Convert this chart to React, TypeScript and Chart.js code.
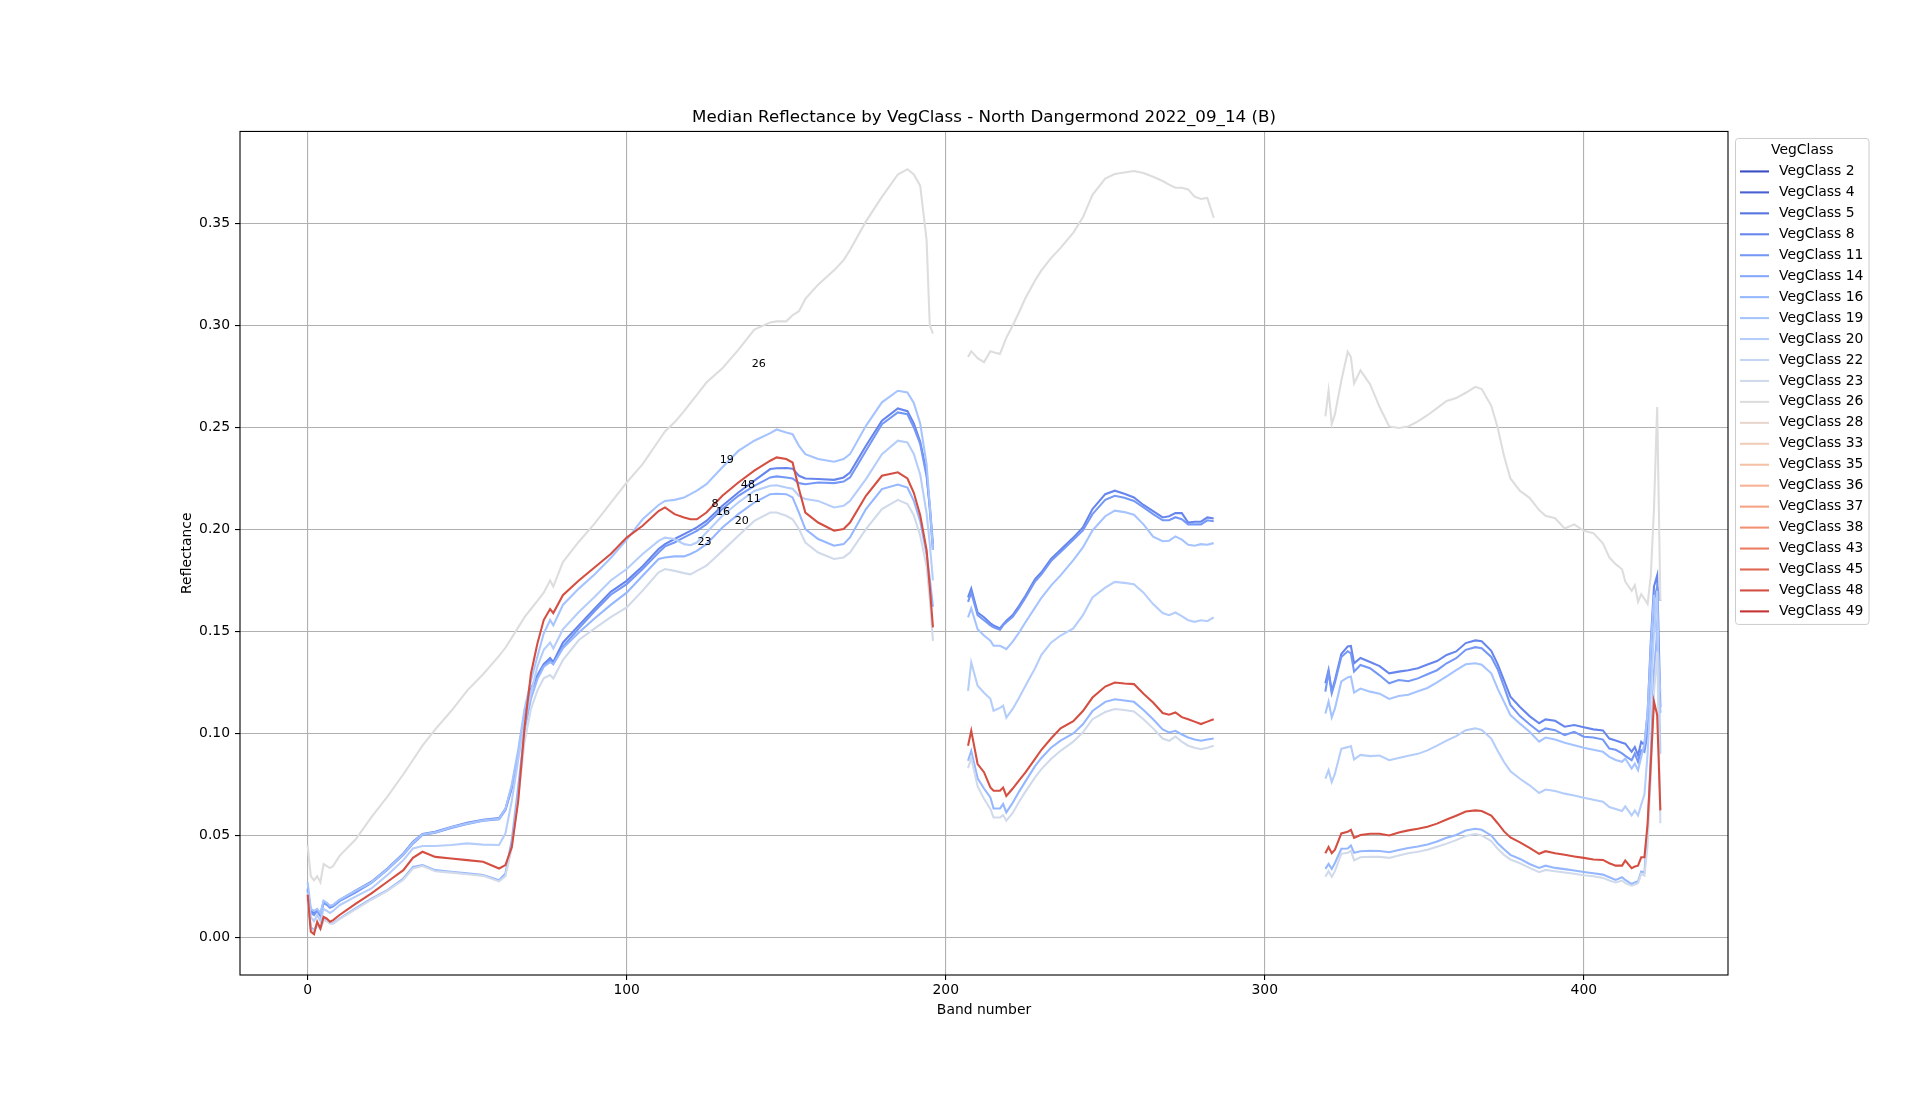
import { useEffect, useRef } from "react";
import Chart from "chart.js/auto";

const FONT = "'DejaVu Sans', sans-serif";

const chartTitle = "Median Reflectance by VegClass - North Dangermond 2022_09_14 (B)";
const vegClasses = [2, 4, 5, 8, 11, 14, 16, 19, 20, 22, 23, 26, 28, 33, 35, 36, 37, 38, 43, 45, 48, 49];

// band numbers sampled in the three unbroken stretches of the spectrum
const bandsR1 = [0, 1, 2, 3, 4, 5, 6, 7, 8, 10, 15, 20, 25, 30, 33, 36, 40, 45, 50, 55, 60, 62, 64, 66, 68, 70, 72, 74, 76, 77, 80, 85, 90, 95, 100, 105, 110, 112, 115, 118, 120, 122, 125, 130, 135, 140, 145, 147, 150, 152, 154, 156, 160, 165, 168, 170, 175, 180, 185, 188, 190, 192, 194, 195, 196];
const bandsR2 = [207, 208, 210, 212, 214, 215, 217, 218, 219, 221, 223, 225, 228, 230, 233, 236, 240, 243, 246, 250, 253, 256, 259, 262, 265, 268, 270, 272, 274, 276, 278, 280, 282, 284];
const bandsR3 = [319, 320, 321, 322, 324, 326, 327, 328, 330, 333, 336, 339, 342, 345, 348, 351, 354, 357, 360, 363, 366, 368, 371, 373, 375, 377, 380, 383, 386, 388, 391, 394, 397, 400, 403, 406, 408, 410, 412, 413, 415, 416, 417, 418, 419, 420, 421, 422, 423, 424];

// VegClass 8
const vc8r1 = [0.024, 0.013, 0.012, 0.0134, 0.011, 0.0175, 0.0167, 0.015, 0.0158, 0.0183,
  0.023, 0.0273, 0.0338, 0.0412, 0.0469, 0.0507, 0.0518, 0.0542, 0.0562, 0.0577,
  0.0585, 0.063, 0.074, 0.09, 0.11, 0.122, 0.1286, 0.134, 0.137, 0.135,
  0.1445, 0.153, 0.1613, 0.1694, 0.1748, 0.182, 0.1904, 0.1928, 0.1953, 0.1977,
  0.1993, 0.201, 0.2042, 0.2116, 0.2181, 0.2239, 0.2296, 0.23, 0.2301, 0.2298,
  0.2263, 0.225, 0.2247, 0.2243, 0.2255, 0.2279, 0.241, 0.2533, 0.2593, 0.258,
  0.252, 0.243, 0.228, 0.21, 0.19];
const vc8r2 = [0.1667, 0.171, 0.1593, 0.157, 0.154, 0.153, 0.1515, 0.1535, 0.1552, 0.158,
  0.1626, 0.1675, 0.1757, 0.179, 0.1855, 0.19, 0.196, 0.201, 0.21, 0.2173,
  0.219, 0.2175, 0.2157, 0.212, 0.209, 0.2059, 0.2065, 0.208, 0.208, 0.2034,
  0.2038, 0.2038, 0.2059, 0.2054];
const vc8r3 = [0.1246, 0.1311, 0.1205, 0.1262, 0.139, 0.1426, 0.1429, 0.1344, 0.137,
  0.135, 0.133, 0.1295, 0.1303, 0.131, 0.132, 0.1338, 0.1355, 0.1385, 0.1402,
  0.1443, 0.1456, 0.1452, 0.1405, 0.134, 0.126, 0.118, 0.113, 0.1085, 0.105,
  0.1069, 0.1062, 0.1033, 0.1041, 0.103, 0.102, 0.1015, 0.0975, 0.0965, 0.0955,
  0.095, 0.091, 0.0934, 0.0893, 0.0959, 0.0943, 0.11, 0.145, 0.172, 0.1775,
  0.113];

// VegClass 11
const vc11r1 = [0.023, 0.012, 0.011, 0.013, 0.0105, 0.017, 0.016, 0.0145, 0.0152, 0.0178,
  0.022, 0.0268, 0.0332, 0.0405, 0.046, 0.0502, 0.0513, 0.0537, 0.0556, 0.0572,
  0.058, 0.0625, 0.073, 0.089, 0.108, 0.121, 0.1275, 0.133, 0.136, 0.134,
  0.1425, 0.1515, 0.16, 0.168, 0.1732, 0.1806, 0.1887, 0.1917, 0.1936, 0.1961,
  0.1977, 0.1993, 0.2026, 0.21, 0.2165, 0.2214, 0.2255, 0.226, 0.2255, 0.225,
  0.2227, 0.2222, 0.223, 0.2227, 0.2235, 0.2255, 0.2386, 0.2516, 0.2574, 0.2565,
  0.25, 0.242, 0.226, 0.212, 0.193];
const vc11r2 = [0.1645, 0.169, 0.158, 0.1555, 0.153, 0.152, 0.1508, 0.153, 0.1545, 0.1572,
  0.1615, 0.1665, 0.1745, 0.178, 0.1845, 0.189, 0.195, 0.1995, 0.2075, 0.2145,
  0.2165, 0.2155, 0.214, 0.2108, 0.2075, 0.2045, 0.2045, 0.206, 0.205, 0.2025,
  0.2025, 0.2025, 0.2045, 0.204];
const vc11r3 = [0.1205, 0.13, 0.1197, 0.125, 0.1375, 0.1403, 0.1393, 0.1303, 0.1336,
  0.132, 0.1285, 0.1246, 0.1262, 0.1256, 0.127, 0.129, 0.131, 0.1344, 0.1369,
  0.141, 0.1423, 0.1418, 0.1375, 0.1315, 0.123, 0.114, 0.1085, 0.1045, 0.1008,
  0.1025, 0.1016, 0.0992, 0.1008, 0.0984, 0.098, 0.097, 0.0926, 0.092, 0.0902,
  0.089, 0.0869, 0.0902, 0.0861, 0.0918, 0.091, 0.1, 0.135, 0.165, 0.172,
  0.165];

// VegClass 16
const vc16r1 = [0.019, 0.005, 0.0036, 0.0069, 0.0044, 0.0093, 0.0085, 0.0072, 0.007, 0.0093,
  0.0142, 0.019, 0.0232, 0.0289, 0.0346, 0.0355, 0.033, 0.0322, 0.0314, 0.0306,
  0.0281, 0.0314, 0.048, 0.074, 0.1016, 0.117, 0.1265, 0.1327, 0.135, 0.134,
  0.1417, 0.1495, 0.1565, 0.163, 0.169, 0.1773, 0.1855, 0.1863, 0.1868, 0.1868,
  0.188, 0.1895, 0.1928, 0.201, 0.2075, 0.2132, 0.2173, 0.2175, 0.2173, 0.2157,
  0.2083, 0.2002, 0.1953, 0.192, 0.1928, 0.1961, 0.21, 0.2198, 0.222, 0.2205,
  0.214, 0.204, 0.188, 0.176, 0.162];
const vc16r2 = [0.0866, 0.0915, 0.078, 0.073, 0.0686, 0.0632, 0.0632, 0.0654, 0.0613, 0.066,
  0.0715, 0.0765, 0.084, 0.088, 0.093, 0.0965, 0.1, 0.1045, 0.111, 0.1155,
  0.1168, 0.1162, 0.1155, 0.1115, 0.107, 0.102, 0.1005, 0.1013, 0.0995, 0.098,
  0.097, 0.0964, 0.097, 0.0975];
const vc16r3 = [0.0336, 0.036, 0.0336, 0.0365, 0.0435, 0.0436, 0.0451, 0.0415, 0.0423,
  0.0425, 0.0424, 0.0418, 0.0429, 0.0439, 0.0446, 0.0456, 0.047, 0.0489, 0.0502,
  0.0524, 0.0533, 0.0528, 0.05, 0.0462, 0.0432, 0.0405, 0.0385, 0.036, 0.0341,
  0.0352, 0.0341, 0.0335, 0.0328, 0.0321, 0.0315, 0.0308, 0.0295, 0.0282, 0.0295,
  0.0282, 0.0262, 0.027, 0.0275, 0.0323, 0.0318, 0.0523, 0.09, 0.13, 0.15,
  0.11];

// VegClass 19
const vc19r1 = [0.027, 0.014, 0.013, 0.014, 0.012, 0.018, 0.017, 0.0155, 0.016, 0.0185,
  0.0228, 0.027, 0.0335, 0.0408, 0.0465, 0.0505, 0.0515, 0.054, 0.0558, 0.0574,
  0.0582, 0.063, 0.075, 0.092, 0.112, 0.126, 0.1376, 0.149, 0.1556, 0.153,
  0.163, 0.171, 0.178, 0.186, 0.195, 0.205, 0.212, 0.214, 0.2145, 0.2157,
  0.2173, 0.219, 0.2222, 0.2305, 0.2385, 0.2435, 0.2472, 0.249, 0.2475, 0.2467,
  0.241, 0.2369, 0.2345, 0.2332, 0.2345, 0.2369, 0.2508, 0.2623, 0.268, 0.2672,
  0.262, 0.252, 0.232, 0.212, 0.19];
const vc19r2 = [0.1569, 0.1613, 0.1511, 0.148, 0.1455, 0.143, 0.143, 0.1422, 0.1413, 0.145,
  0.1495, 0.1545, 0.1617, 0.1665, 0.1725, 0.1775, 0.185, 0.1912, 0.1995, 0.2065,
  0.2092, 0.2085, 0.2072, 0.2025, 0.1965, 0.1942, 0.1945, 0.1966, 0.195, 0.1925,
  0.192, 0.1928, 0.1925, 0.1933];
const vc19r3 = [0.1098, 0.1156, 0.1079, 0.1123, 0.1255, 0.1275, 0.1279, 0.12, 0.122,
  0.1205, 0.1195, 0.1169, 0.1184, 0.119, 0.1207, 0.1223, 0.125, 0.128, 0.1311,
  0.1339, 0.1344, 0.1337, 0.1295, 0.122, 0.1155, 0.109, 0.1048, 0.1008, 0.096,
  0.098, 0.097, 0.0955, 0.0942, 0.093, 0.092, 0.091, 0.0885, 0.087, 0.0861,
  0.0877, 0.0828, 0.0852, 0.082, 0.0885, 0.095, 0.11, 0.142, 0.168, 0.145,
  0.12];

// VegClass 20
const vc20r1 = [0.022, 0.01, 0.008, 0.011, 0.008, 0.014, 0.013, 0.012, 0.013, 0.0158,
  0.02, 0.024, 0.0306, 0.0379, 0.0436, 0.0448, 0.0448, 0.0453, 0.0461, 0.0455,
  0.0453, 0.051, 0.067, 0.087, 0.106, 0.12, 0.1327, 0.141, 0.1446, 0.1417,
  0.151, 0.1595, 0.167, 0.175, 0.1806, 0.188, 0.1944, 0.196, 0.1953, 0.1928,
  0.1923, 0.1936, 0.1985, 0.2067, 0.2132, 0.2189, 0.2214, 0.2217, 0.2206, 0.22,
  0.2165, 0.2149, 0.214, 0.2108, 0.2116, 0.214, 0.2247, 0.2369, 0.2435, 0.2426,
  0.237, 0.227, 0.208, 0.193, 0.175];
const vc20r2 = [0.1209, 0.1348, 0.1234, 0.12, 0.117, 0.1111, 0.1125, 0.1136, 0.1078, 0.112,
  0.1175, 0.1234, 0.132, 0.1385, 0.1445, 0.148, 0.1515, 0.158, 0.1667, 0.1715,
  0.1743, 0.1738, 0.1732, 0.169, 0.1634, 0.159, 0.158, 0.1593, 0.1575, 0.1555,
  0.1547, 0.1555, 0.155, 0.1569];
const vc20r3 = [0.0779, 0.082, 0.0762, 0.0803, 0.0925, 0.0933, 0.0938, 0.0872, 0.0895,
  0.0889, 0.0892, 0.0869, 0.088, 0.0891, 0.09, 0.0917, 0.094, 0.0965, 0.0987,
  0.1016, 0.1025, 0.1017, 0.0975, 0.0915, 0.086, 0.0815, 0.0778, 0.0746, 0.0708,
  0.0725, 0.0718, 0.0705, 0.0696, 0.0685, 0.0675, 0.0665, 0.0639, 0.063, 0.062,
  0.0643, 0.0598, 0.0623, 0.0598, 0.0652, 0.07, 0.09, 0.12, 0.15, 0.17,
  0.09];

// VegClass 23
const vc23r1 = [0.018, 0.004, 0.003, 0.006, 0.004, 0.0085, 0.008, 0.0068, 0.0068, 0.009,
  0.0138, 0.0185, 0.0228, 0.0283, 0.0338, 0.035, 0.0325, 0.0318, 0.031, 0.0302,
  0.0275, 0.03, 0.044, 0.068, 0.096, 0.112, 0.121, 0.127, 0.1286, 0.127,
  0.136, 0.1458, 0.1515, 0.157, 0.1618, 0.17, 0.179, 0.1806, 0.1797, 0.1786,
  0.178, 0.1797, 0.1822, 0.1895, 0.1969, 0.2042, 0.2083, 0.2083, 0.2067, 0.205,
  0.2002, 0.1936, 0.1887, 0.1855, 0.1863, 0.1887, 0.2002, 0.21, 0.2145, 0.2125,
  0.207, 0.197, 0.182, 0.166, 0.1454];
const vc23r2 = [0.083, 0.088, 0.074, 0.068, 0.063, 0.0588, 0.0588, 0.06, 0.0572, 0.061,
  0.0665, 0.0715, 0.0785, 0.0825, 0.0875, 0.0915, 0.096, 0.1005, 0.107, 0.1105,
  0.112, 0.1115, 0.1108, 0.107, 0.1025, 0.0975, 0.0964, 0.0985, 0.096, 0.094,
  0.093, 0.0923, 0.093, 0.094];
const vc23r3 = [0.0298, 0.0325, 0.0298, 0.0325, 0.041, 0.0415, 0.0426, 0.0378, 0.0393,
  0.0396, 0.0395, 0.039, 0.0402, 0.0413, 0.042, 0.043, 0.0445, 0.046, 0.0477,
  0.0497, 0.0507, 0.05, 0.0472, 0.0435, 0.0405, 0.0382, 0.0364, 0.0341, 0.032,
  0.0331, 0.0325, 0.0318, 0.0312, 0.0305, 0.03, 0.0292, 0.0279, 0.027, 0.0279,
  0.0266, 0.0254, 0.026, 0.0266, 0.0312, 0.0303, 0.045, 0.08, 0.12, 0.14,
  0.056];

// VegClass 26
const vc26r1 = [0.045, 0.03, 0.028, 0.03, 0.027, 0.036, 0.035, 0.034, 0.035, 0.04,
  0.048, 0.059, 0.069, 0.08, 0.087, 0.094, 0.102, 0.111, 0.121, 0.129,
  0.138, 0.142, 0.147, 0.152, 0.157, 0.161, 0.165, 0.169, 0.175, 0.172,
  0.184, 0.194, 0.203, 0.213, 0.223, 0.232, 0.2435, 0.248, 0.2525, 0.258,
  0.262, 0.266, 0.272, 0.279, 0.288, 0.298, 0.3015, 0.302, 0.302, 0.305,
  0.307, 0.313, 0.32, 0.327, 0.332, 0.337, 0.351, 0.363, 0.374, 0.3766,
  0.374, 0.3685, 0.342, 0.3, 0.296];
const vc26r2 = [0.2845, 0.2874, 0.284, 0.282, 0.2874, 0.2869, 0.286, 0.29, 0.294, 0.3,
  0.3065, 0.3135, 0.322, 0.327, 0.333, 0.338, 0.3455, 0.353, 0.364, 0.372,
  0.3742, 0.375, 0.3757, 0.3747, 0.3729, 0.3708, 0.369, 0.3675, 0.3675, 0.3667,
  0.3631, 0.362, 0.3625, 0.3528];
const vc26r3 = [0.2554, 0.268, 0.2516, 0.2565, 0.2729, 0.2871, 0.2845, 0.2716, 0.278,
  0.2712, 0.26, 0.2505, 0.2497, 0.2505, 0.253, 0.256, 0.2595, 0.263, 0.2644,
  0.267, 0.2699, 0.2688, 0.2606, 0.25, 0.236, 0.225, 0.2189, 0.2155, 0.2095,
  0.2067, 0.2055, 0.2005, 0.2025, 0.1993, 0.1982, 0.1932, 0.1863, 0.183, 0.1805,
  0.1745, 0.1699, 0.1727, 0.1645, 0.1683, 0.166, 0.1634, 0.1773, 0.21, 0.26,
  0.165];

// VegClass 48
const vc48r1 = [0.021, 0.0028, 0.0016, 0.0077, 0.0044, 0.0101, 0.0093, 0.0077, 0.0085, 0.011,
  0.0165, 0.0216, 0.0273, 0.033, 0.039, 0.042, 0.0395, 0.0387, 0.0379, 0.0371,
  0.0338, 0.0355, 0.0444, 0.067, 0.103, 0.1294, 0.144, 0.1556, 0.161, 0.159,
  0.1678, 0.175, 0.1815, 0.188, 0.196, 0.2018, 0.209, 0.2108, 0.2075, 0.2059,
  0.205, 0.205, 0.2083, 0.2165, 0.223, 0.2288, 0.2337, 0.2353, 0.2345, 0.2328,
  0.2198, 0.2083, 0.2034, 0.1994, 0.2002, 0.2034, 0.2165, 0.2263, 0.228, 0.225,
  0.218, 0.207, 0.19, 0.172, 0.152];
const vc48r2 = [0.094, 0.1013, 0.085, 0.081, 0.0735, 0.0719, 0.0719, 0.0735, 0.0694, 0.073,
  0.077, 0.0809, 0.0875, 0.092, 0.0975, 0.1025, 0.106, 0.111, 0.1176, 0.123,
  0.125, 0.1245, 0.1242, 0.1195, 0.1152, 0.11, 0.1092, 0.1103, 0.108, 0.107,
  0.1058, 0.1046, 0.1058, 0.107];
const vc48r3 = [0.0413, 0.0443, 0.0413, 0.043, 0.051, 0.0518, 0.0528, 0.0488, 0.0502,
  0.0508, 0.0508, 0.05, 0.0515, 0.0525, 0.0533, 0.0543, 0.0558, 0.0578, 0.0597,
  0.0617, 0.0623, 0.062, 0.0598, 0.056, 0.052, 0.049, 0.0466, 0.0439, 0.041,
  0.0423, 0.0413, 0.0405, 0.0397, 0.039, 0.0382, 0.038, 0.0364, 0.0352, 0.0352,
  0.0377, 0.034, 0.0348, 0.0352, 0.0393, 0.0393, 0.0557, 0.0852, 0.1156, 0.109,
  0.0623];

// class number labels written on the chart
const labelClasses = [26, 19, 48, 8, 16, 11, 20, 23];
const labelBands = [141.4, 131.4, 138, 127.7, 130.2, 139.8, 136.1, 124.4];
const labelValues = [0.2809, 0.234, 0.2217, 0.2124, 0.2083, 0.2149, 0.2039, 0.1936];

const seriesByClass: Record<number, number[][]> = {
  8: [vc8r1, vc8r2, vc8r3],
  11: [vc11r1, vc11r2, vc11r3],
  16: [vc16r1, vc16r2, vc16r3],
  19: [vc19r1, vc19r2, vc19r3],
  20: [vc20r1, vc20r2, vc20r3],
  23: [vc23r1, vc23r2, vc23r3],
  26: [vc26r1, vc26r2, vc26r3],
  48: [vc48r1, vc48r2, vc48r3],
};

// matplotlib "coolwarm"
const coolwarmStops = [
  [59, 76, 192], [68, 90, 204], [77, 104, 215], [87, 117, 225], [98, 130, 234], [108, 142, 241],
  [119, 154, 247], [130, 165, 251], [141, 176, 254], [152, 185, 255], [163, 194, 255], [174, 201, 253],
  [184, 208, 249], [194, 213, 244], [204, 217, 238], [213, 219, 230], [221, 221, 221], [229, 216, 209],
  [236, 211, 197], [241, 204, 184], [245, 196, 172], [247, 187, 159], [247, 177, 147], [246, 166, 135],
  [244, 154, 123], [241, 141, 111], [236, 127, 99], [229, 112, 88], [222, 96, 77], [213, 80, 66],
  [203, 62, 56], [192, 40, 47], [180, 4, 38],
];

function coolwarm(t: number) {
  const p = t * (coolwarmStops.length - 1);
  const i = Math.min(coolwarmStops.length - 2, Math.floor(p));
  const f = p - i;
  const a = coolwarmStops[i];
  const b = coolwarmStops[i + 1];
  const c = a.map((v, k) => Math.round(v + (b[k] - v) * f));
  return `rgb(${c[0]}, ${c[1]}, ${c[2]})`;
}

function buildPoints(parts?: number[][]) {
  if (!parts) return [];
  return [
    ...bandsR1.map((x, i) => ({ x, y: parts[0][i] })),
    { x: 201, y: null },
    ...bandsR2.map((x, i) => ({ x, y: parts[1][i] })),
    { x: 300, y: null },
    ...bandsR3.map((x, i) => ({ x, y: parts[2][i] })),
  ];
}

const frameAndLabels = {
  id: "frameAndLabels",
  afterDatasetsDraw(chart: any) {
    const { ctx, chartArea, scales } = chart;
    ctx.save();
    ctx.font = `11.1px ${FONT}`;
    ctx.fillStyle = "#000";
    ctx.textAlign = "center";
    ctx.textBaseline = "middle";
    labelClasses.forEach((c, i) => {
      ctx.fillText(String(c), scales.x.getPixelForValue(labelBands[i]), scales.y.getPixelForValue(labelValues[i]));
    });
    ctx.strokeStyle = "#000";
    ctx.lineWidth = 1.1;
    ctx.strokeRect(chartArea.left, chartArea.top, chartArea.right - chartArea.left, chartArea.bottom - chartArea.top);
    ctx.restore();
  },
};

// matplotlib-style legend outside the axes, upper left
const vegLegend = {
  id: "vegLegend",
  afterDraw(chart: any) {
    const { ctx, chartArea } = chart;
    const datasets = chart.data.datasets;
    const left = chartArea.right + 7.5;
    const top = chartArea.top + 7;
    const width = 133.5;
    const rowH = 20.95;
    const height = 486;
    ctx.save();
    ctx.beginPath();
    ctx.roundRect(left, top, width, height, 3);
    ctx.fillStyle = "rgba(255,255,255,0.8)";
    ctx.fill();
    ctx.strokeStyle = "#cccccc";
    ctx.lineWidth = 1;
    ctx.stroke();

    ctx.fillStyle = "#000";
    ctx.font = `13.9px ${FONT}`;
    ctx.textBaseline = "middle";
    ctx.textAlign = "center";
    ctx.fillText("VegClass", left + width / 2, top + 12);

    ctx.textAlign = "left";
    datasets.forEach((ds: any, i: number) => {
      const y = top + 33 + rowH * i;
      ctx.strokeStyle = ds.borderColor;
      ctx.lineWidth = 2.08;
      ctx.beginPath();
      ctx.moveTo(left + 4.5, y);
      ctx.lineTo(left + 33.5, y);
      ctx.stroke();
      ctx.fillText(ds.label, left + 43.5, y);
    });
    ctx.restore();
  },
};

export default function App() {
  const chartRef = useRef<HTMLCanvasElement>(null);
  const chartInstance = useRef<Chart | null>(null);

  useEffect(() => {
    document.body.style.margin = "0";
    document.body.style.overflow = "hidden";
    if (!chartRef.current) return;

    if (chartInstance.current) {
      chartInstance.current.destroy();
    }

    const ctx = chartRef.current.getContext("2d");
    if (!ctx) return;

    // colours sampled from coolwarm at i / N, as the source plot did
    const datasets = vegClasses.map((cls, i) => ({
      label: `VegClass ${cls}`,
      data: buildPoints(seriesByClass[cls]),
      borderColor: coolwarm(i / vegClasses.length),
      backgroundColor: coolwarm(i / vegClasses.length),
      borderWidth: 2.08,
      pointRadius: 0,
      tension: 0,
      spanGaps: false,
      order: vegClasses.length - i,
    }));

    const tickFont = { family: FONT, size: 13.9 };

    chartInstance.current = new Chart(ctx, {
      type: "line",
      data: { datasets: datasets as any },
      options: {
        responsive: false,
        animation: false,
        devicePixelRatio: 1,
        layout: { padding: { left: 174.7, right: 192, top: 0, bottom: 72.7 } },
        plugins: {
          legend: { display: false },
          tooltip: { enabled: false },
          title: {
            display: true,
            text: chartTitle,
            color: "#000",
            fullSize: false,
            font: { family: FONT, size: 16.7, weight: "normal" },
            padding: { top: 108, bottom: 3.4 },
          },
        },
        scales: {
          x: {
            type: "linear",
            min: -21.2,
            max: 445.2,
            afterFit: (scale: any) => {
              scale.height = 47.3;
            },
            ticks: {
              stepSize: 100,
              includeBounds: false,
              color: "#000",
              font: tickFont,
              padding: 2,
              maxRotation: 0,
              callback: (v: any) => String(v),
            },
            grid: { color: "#b0b0b0", lineWidth: 1.1, tickColor: "#000", tickLength: 5, tickWidth: 1.1 },
            border: { display: false },
            title: { display: true, text: "Band number", color: "#000", font: tickFont },
          },
          y: {
            type: "linear",
            min: -0.0184,
            max: 0.3951,
            afterFit: (scale: any) => {
              scale.width = 65.3;
            },
            ticks: {
              stepSize: 0.05,
              includeBounds: false,
              color: "#000",
              font: tickFont,
              padding: 5,
              callback: (v: any) => Number(v).toFixed(2),
            },
            grid: { color: "#b0b0b0", lineWidth: 1.1, tickColor: "#000", tickLength: 5, tickWidth: 1.1 },
            border: { display: false },
            title: { display: true, text: "Reflectance", color: "#000", font: tickFont },
          },
        },
      },
      plugins: [frameAndLabels, vegLegend],
    });

    return () => {
      if (chartInstance.current) {
        chartInstance.current.destroy();
        chartInstance.current = null;
      }
    };
  }, []);

  return (
    <div style={{ width: 1920, height: 1095, background: "#fff" }}>
      <canvas ref={chartRef} width={1920} height={1095} style={{ display: "block" }}></canvas>
    </div>
  );
}
